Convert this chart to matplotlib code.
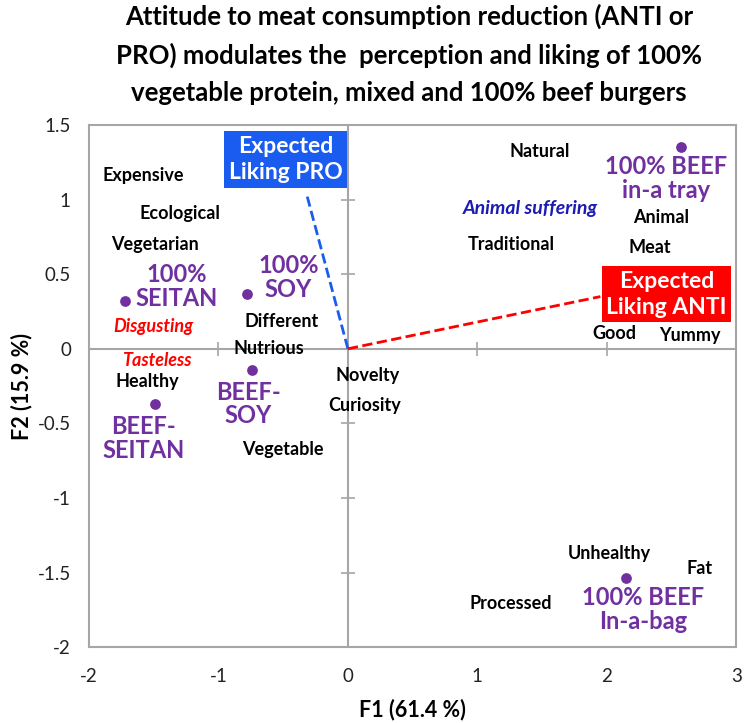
import matplotlib
matplotlib.use('agg')
import matplotlib.pyplot as plt

plt.rcParams['font.family'] = ['Lato', 'DejaVu Sans']

# products (points with markers)
prod_x = [-1.72, -0.78, -0.74, -1.49, 2.57, 2.15]
prod_y = [0.32, 0.37, -0.14, -0.37, 1.35, -1.54]
prod_names = ['100%\nSEITAN', '100%\nSOY', 'BEEF-\nSOY', 'BEEF-\nSEITAN',
              '100% BEEF\nin-a tray', '100% BEEF\nIn-a-bag']
prod_lab_x = [-1.32, -0.46, -0.77, -1.58, 2.46, 2.28]
prod_lab_y = [0.42, 0.48, -0.37, -0.60, 1.14, -1.745]

# attributes (labels only)
attr_names = ['Expensive', 'Ecological', 'Vegetarian', 'Healthy', 'Different',
              'Nutrious', 'Vegetable', 'Novelty', 'Curiosity', 'Natural',
              'Traditional', 'Animal', 'Meat', 'Good', 'Yummy', 'Unhealthy',
              'Fat', 'Processed']
attr_x = [-1.58, -1.30, -1.49, -1.55, -0.51, -0.61, -0.50, 0.15, 0.13, 1.48,
          1.26, 2.42, 2.33, 2.06, 2.64, 2.02, 2.72, 1.26]
attr_y = [1.16, 0.91, 0.70, -0.22, 0.18, 0.0, -0.675, -0.18, -0.38, 1.32,
          0.70, 0.88, 0.68, 0.10, 0.09, -1.37, -1.47, -1.71]

# highlighted attributes
neg_names = ['Disgusting', 'Tasteless']
neg_x = [-1.50, -1.48]
neg_y = [0.15, -0.08]
blue_name = 'Animal suffering'
blue_x, blue_y = 1.41, 0.94

# liking vectors
vec_names = ['Expected\nLiking PRO', 'Expected\nLiking ANTI']
vec_x = [-0.32, 1.95]
vec_y = [1.04, 0.35]
vec_lab_x = [-0.48, 2.46]
vec_lab_y = [1.27, 0.365]
vec_colors = ['#1A5CF0', '#FF0000']

xticks = [-2, -1, 0, 1, 2, 3]
yticks = [-2, -1.5, -1, -0.5, 0, 0.5, 1, 1.5]
ytick_labels = ['-2', '-1.5', '-1', '-0.5', '0', '0.5', '1', '1.5']

purple = '#7030A0'
gray = '#A6A6A6'

fig = plt.figure(figsize=(7.44, 7.23), dpi=100)
ax = fig.add_axes([0.1196, 0.105, 0.870, 0.722])
ax.set_xlim(-2, 3)
ax.set_ylim(-2, 1.5)

for s in ax.spines.values():
    s.set_color(gray)
    s.set_linewidth(1.5)

ax.axvline(0, color=gray, lw=1.5, zorder=1)
ax.axhline(0, color=gray, lw=1.5, zorder=1)
ax.plot([0] * len(yticks), yticks, ls='none', marker='_', ms=10, mew=1.2,
        color=gray, zorder=1, clip_on=False)
ax.plot(xticks, [0] * len(xticks), ls='none', marker='|', ms=10, mew=1.2,
        color=gray, zorder=1, clip_on=False)

ax.set_xticks(xticks)
ax.set_xticklabels([str(t) for t in xticks])
ax.set_yticks(yticks)
ax.set_yticklabels(ytick_labels)
ax.tick_params(length=0, labelsize=13.5, colors='#222222')
ax.tick_params(axis='y', pad=13)
ax.tick_params(axis='x', pad=15)

ax.set_xlabel('F1 (61.4 %)', fontsize=15.5, fontweight='bold', labelpad=10)
ax.set_ylabel('F2 (15.9 %)', fontsize=15.5, fontweight='bold', labelpad=4)

# vectors
for i in range(len(vec_names)):
    ax.plot([0, vec_x[i]], [0, vec_y[i]], ls='--', lw=2, color=vec_colors[i],
            zorder=2)
    ax.text(vec_lab_x[i], vec_lab_y[i], vec_names[i], color='white',
            fontsize=16.5, fontweight='bold', ha='center', va='center',
            linespacing=1.3, zorder=4,
            bbox=dict(boxstyle='square,pad=0.2', fc=vec_colors[i], ec='none'))

# products
ax.scatter(prod_x, prod_y, s=45, color=purple, zorder=3)
for i in range(len(prod_names)):
    ax.text(prod_lab_x[i], prod_lab_y[i], prod_names[i], color=purple,
            fontsize=17, fontweight='bold', ha='center', va='center',
            linespacing=1.05, zorder=3)

# attributes
for i in range(len(attr_names)):
    ax.text(attr_x[i], attr_y[i], attr_names[i], color='black',
            fontsize=13, fontweight='bold', ha='center', va='center', zorder=3)
for i in range(len(neg_names)):
    ax.text(neg_x[i], neg_y[i], neg_names[i], color='#FF0000', fontsize=13,
            fontweight='bold', style='italic', ha='center', va='center', zorder=3)
ax.text(blue_x, blue_y, blue_name, color='#1C1CB4', fontsize=14,
        fontweight='bold', style='italic', ha='center', va='center', zorder=3)

fig.text(0.55, 0.995, 'Attitude to meat consumption reduction (ANTI or\n'
         'PRO) modulates the  perception and liking of 100%\n'
         'vegetable protein, mixed and 100% beef burgers',
         ha='center', va='top', fontsize=18.5, fontweight='bold', linespacing=1.65)

fig.savefig('out.png', dpi=100)
